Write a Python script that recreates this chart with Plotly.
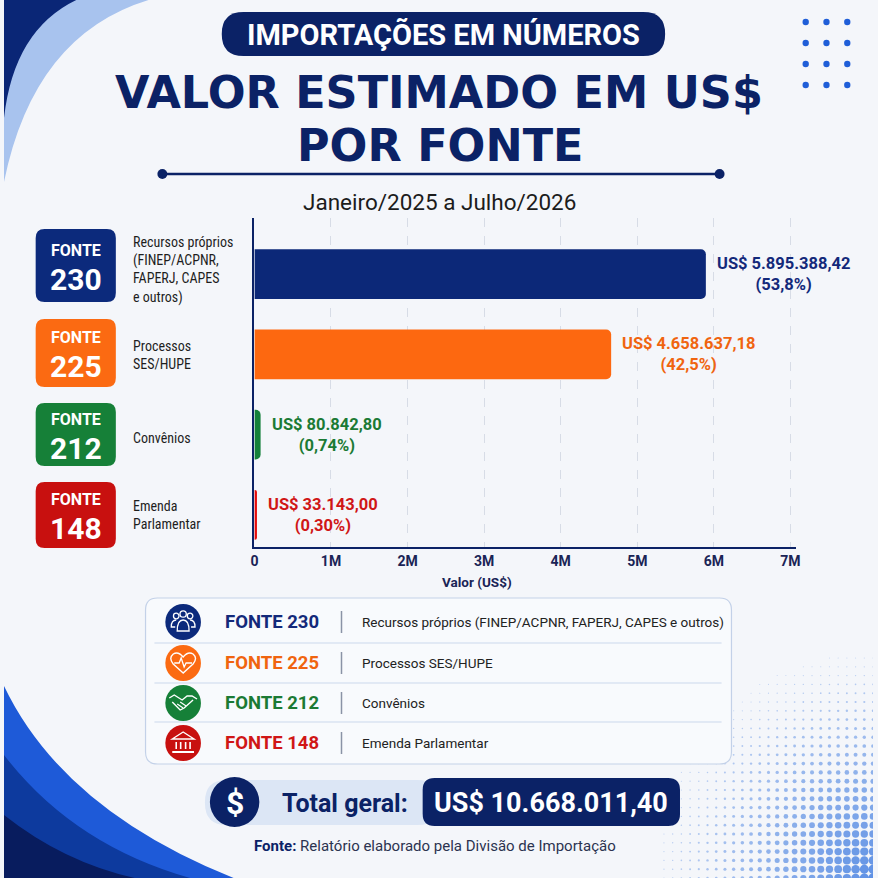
import plotly.graph_objects as go
import numpy as np

# ---------------- data ----------------
fontes = ["230", "225", "212", "148"]
categorias = ["FONTE 230", "FONTE 225", "FONTE 212", "FONTE 148"]
descricoes_curta = ["Recursos próprios<br>(FINEP/ACPNR,<br>FAPERJ, CAPES<br>e outros)",
                    "Processos<br>SES/HUPE", "Convênios", "Emenda<br>Parlamentar"]
descricoes_longa = ["Recursos próprios (FINEP/ACPNR, FAPERJ, CAPES e outros)",
                    "Processos SES/HUPE", "Convênios", "Emenda Parlamentar"]
valores = [5895388.42, 4658637.18, 80842.80, 33143.00]
percentuais = ["53,8%", "42,5%", "0,74%", "0,30%"]
tick_vals = [0, 1e6, 2e6, 3e6, 4e6, 5e6, 6e6, 7e6]
tick_text = ["0", "1M", "2M", "3M", "4M", "5M", "6M", "7M"]

cores_barra = ["#0c2878", "#fd6810", "#13803a", "#e50b0b"]
cores_box = ["#0c2a7c", "#fb6a12", "#168038", "#c8100f"]
cores_label = ["#13297a", "#f0640f", "#1b7a34", "#d01616"]

NAVY = "#0b2266"
W = H = 878


def brl(v):
    s = f"{v:,.2f}"
    return s.replace(",", "#").replace(".", ",").replace("#", ".")


def X(px):
    return px / W


def Y(py):
    return 1 - py / H


def pt(x, y):
    return f"{X(x):.5f},{Y(y):.5f}"


def rrect(x0, y0, x1, y1, r):
    return (f"M {pt(x0+r, y0)} L {pt(x1-r, y0)} Q {pt(x1, y0)} {pt(x1, y0+r)} "
            f"L {pt(x1, y1-r)} Q {pt(x1, y1)} {pt(x1-r, y1)} L {pt(x0+r, y1)} "
            f"Q {pt(x0, y1)} {pt(x0, y1-r)} L {pt(x0, y0+r)} Q {pt(x0, y0)} {pt(x0+r, y0)} Z")


shapes = []
ann = []


def add_path(path, fill=None, line=None, lw=0, layer="above"):
    shapes.append(dict(type="path", path=path, xref="paper", yref="paper",
                       fillcolor=fill if fill else "rgba(0,0,0,0)",
                       line=dict(color=line if line else "rgba(0,0,0,0)", width=lw),
                       layer=layer))


def add_circle(cx, cy, r, fill=None, line=None, lw=0, layer="above"):
    shapes.append(dict(type="circle", xref="paper", yref="paper",
                       x0=X(cx - r), x1=X(cx + r), y0=Y(cy + r), y1=Y(cy - r),
                       fillcolor=fill if fill else "rgba(0,0,0,0)",
                       line=dict(color=line if line else "rgba(0,0,0,0)", width=lw),
                       layer=layer))


def add_line(x0, y0, x1, y1, color, w):
    shapes.append(dict(type="line", xref="paper", yref="paper",
                       x0=X(x0), x1=X(x1), y0=Y(y0), y1=Y(y1),
                       line=dict(color=color, width=w)))


def text(x, y, t, size, color, family="Roboto", weight=None, xanchor="center",
         align="center", yanchor="middle"):
    f = dict(size=size, color=color, family=family)
    if weight:
        f["weight"] = weight
    ann.append(dict(x=X(x), y=Y(y), xref="paper", yref="paper", text=t, showarrow=False,
                    xanchor=xanchor, yanchor=yanchor, align=align, font=f, borderpad=0))


# ---------------- decorations ----------------
# top-left corner
add_path(f"M {pt(0,0)} L {pt(146,0)} Q {pt(30,35)} {pt(0,182)} Z", fill="#a8c3ee", layer="below")
add_path(f"M {pt(0,0)} L {pt(73,0)} Q {pt(10,30)} {pt(0,118)} Z", fill="#0a2676", layer="below")
# bottom-left waves
add_path(f"M {pt(0,686)} Q {pt(60,810)} {pt(232,878)} L {pt(0,878)} Z", fill="#1e5ad8", layer="below")
add_path(f"M {pt(0,755)} Q {pt(70,845)} {pt(188,878)} L {pt(0,878)} Z", fill="#0d3a9e", layer="below")
add_path(f"M {pt(0,815)} Q {pt(60,862)} {pt(132,878)} L {pt(0,878)} Z", fill="#081c5e", layer="below")
# top-right dots
for cx in [810, 831, 852]:
    for cy in [22, 43, 64, 85]:
        add_circle(cx, cy, 3.2, fill="#1f5ed8")

# header pill + title
add_path(rrect(220, 12, 668, 56, 22), fill=NAVY)
text(444, 35, "IMPORTAÇÕES EM NÚMEROS", 29, "white", weight=700)
text(440, 92, "VALOR ESTIMADO EM US$", 44.5, NAVY, family="DejaVu Sans", weight=700)
text(441, 145, "POR FONTE", 44.5, NAVY, family="DejaVu Sans", weight=700)
add_line(160, 174, 723, 174, NAVY, 2.5)
add_circle(160, 174, 5, fill=NAVY)
add_circle(723, 174, 5, fill=NAVY)
text(440, 202, "Janeiro/2025 a Julho/2026", 22.5, "#1c1c1c")

# left boxes
boxes = [(229, 302), (319, 387), (403, 466), (482, 548)]
desc_y = [270, 355, 438, 515]
for i, (y0, y1) in enumerate(boxes):
    add_path(rrect(32, y0, 113, y1, 9), fill=cores_box[i])
    cy = (y0 + y1) / 2
    text(72.5, cy - 5, "FONTE", 16, "white", weight=700, yanchor="bottom")
    text(72.5, cy - 5, fontes[i], 30, "white", weight=700, yanchor="top")
    text(129, desc_y[i], descricoes_curta[i], 14, "#1e1e1e",
         family="Liberation Sans Narrow, Roboto Condensed, Roboto",
         xanchor="left", align="left")

# axis title
text(478, 582, "Valor (US$)", 13.5, "#1a2456", weight=700)

# legend box
add_path(rrect(143, 598, 735, 764, 12), fill="#f8fafd", line="#c3d1e8", lw=1.2)
for ly in [643, 683, 722]:
    add_line(152, ly, 725, ly, "#cbd8ec", 1)
row_y = [622, 663, 703, 743]
for i, cy in enumerate(row_y):
    add_circle(181, cy, 18, fill=cores_box[i])
    text(222, cy, f"FONTE {fontes[i]}", 18.5, cores_label[i], weight=700, xanchor="left")
    add_line(341, cy - 11, 341, cy + 11, "#8a93a6", 1.5)
    text(361, cy, descricoes_longa[i], 13.5, "#222222", xanchor="left")

# icons (white outline)
cx, cy = 181, row_y[0]
for hx, hy, hr in [(cx - 7, cy - 6, 2.8), (cx, cy - 8, 3.2), (cx + 7, cy - 6, 2.8)]:
    add_circle(hx, hy, hr, line="white", lw=1.3)
add_path(f"M {pt(cx-6,cy+9)} Q {pt(cx-6,cy-2)} {pt(cx,cy-2)} Q {pt(cx+6,cy-2)} {pt(cx+6,cy+9)} Z", line="white", lw=1.3)
add_path(f"M {pt(cx-8,cy+5)} L {pt(cx-12,cy+5)} Q {pt(cx-12,cy-2)} {pt(cx-7,cy-2)}", line="white", lw=1.3)
add_path(f"M {pt(cx+8,cy+5)} L {pt(cx+12,cy+5)} Q {pt(cx+12,cy-2)} {pt(cx+7,cy-2)}", line="white", lw=1.3)
cx, cy = 181, row_y[1]
add_path(f"M {pt(cx,cy+10)} L {pt(cx-10,cy+1)} Q {pt(cx-15,cy-5)} {pt(cx-10,cy-9)} "
         f"Q {pt(cx-5,cy-12)} {pt(cx,cy-6)} Q {pt(cx+5,cy-12)} {pt(cx+10,cy-9)} "
         f"Q {pt(cx+15,cy-5)} {pt(cx+10,cy+1)} Z", line="white", lw=1.4)
add_path(f"M {pt(cx-9,cy)} L {pt(cx-4,cy)} L {pt(cx-2,cy-5)} L {pt(cx+1,cy+4)} L {pt(cx+3,cy)} L {pt(cx+9,cy)}",
         line="white", lw=1.3)
cx, cy = 181, row_y[2]
add_path(f"M {pt(cx-14,cy-5)} L {pt(cx-9,cy-8)} L {pt(cx-1,cy-3)} L {pt(cx+4,cy-7)} L {pt(cx+9,cy-7)} L {pt(cx+14,cy-4)}",
         line="white", lw=1.4)
add_path(f"M {pt(cx-11,cy-1)} L {pt(cx-3,cy+7)} L {pt(cx+1,cy+5)} L {pt(cx+10,cy-3)}", line="white", lw=1.4)
add_path(f"M {pt(cx-6,cy+1)} L {pt(cx,cy+5)} M {pt(cx-3,cy-1)} L {pt(cx+3,cy+3)}", line="white", lw=1.2)
cx, cy = 181, row_y[3]
add_path(f"M {pt(cx-11,cy-4)} L {pt(cx,cy-11)} L {pt(cx+11,cy-4)} Z", line="white", lw=1.4)
for dx in [-7, -2.5, 2.5, 7]:
    add_line(cx + dx, cy - 1, cx + dx, cy + 6, "white", 1.6)
add_line(cx - 11, cy + 9, cx + 11, cy + 9, "white", 2)

# total
add_path(rrect(203, 780, 440, 825, 22), fill="#dce6f5")
add_path(rrect(423, 778, 683, 826, 12), fill=NAVY)
add_circle(233, 802, 25, fill=NAVY)
text(233, 803, "$", 32, "white", weight=700)
text(280, 803, "Total geral:", 25, NAVY, weight=700, xanchor="left")
text(553, 803, "US$ " + brl(sum(valores)), 27, "white", weight=700)

# footer
text(435, 846, f"<b><span style='color:{NAVY}'>Fonte:</span></b> Relatório elaborado pela Divisão de Importação",
     15, "#2b3350")

# ---------------- figure ----------------
fig = go.Figure()

# halftone background decoration (bottom-right)
gx, gy = np.meshgrid(np.arange(878, 660, -8.8), np.arange(878, 640, -8.8))
gx, gy = gx.ravel(), gy.ravel()
dist = np.hypot(878 - gx, 878 - gy)
keep = dist < 225
gx, gy, dist = gx[keep], gy[keep], dist[keep]
sizes = 1 + 8.5 * (1 - dist / 225) ** 1.3
opac = 0.3 + 0.6 * (1 - dist / 225)
fig.add_trace(go.Scatter(x=gx, y=gy, mode="markers", xaxis="x2", yaxis="y2",
                         marker=dict(size=sizes, color="#4f86e2",
                                     opacity=opac, line=dict(width=0)),
                         hoverinfo="skip", showlegend=False))

fig.add_trace(go.Bar(
    y=categorias, x=valores, orientation="h",
    marker=dict(color=cores_barra, line=dict(width=0)),
    width=0.62, hoverinfo="skip", showlegend=False,
))

for i in range(len(valores)):
    ann.append(dict(x=valores[i], y=categorias[i], xref="x", yref="y",
                    text=f"US$ {brl(valores[i])}<br>({percentuais[i]})",
                    showarrow=False, xanchor="left", yanchor="middle", xshift=9, align="center",
                    font=dict(size=16.5, color=cores_label[i], family="Roboto", weight=700)))

fig.update_layout(
    width=W, height=H, margin=dict(l=0, r=0, t=0, b=0),
    paper_bgcolor="#f4f6fa", plot_bgcolor="rgba(0,0,0,0)",
    barcornerradius=5,
    xaxis=dict(domain=[X(253), X(800)], range=[0, 7.07e6], tickvals=tick_vals, ticktext=tick_text,
               tickfont=dict(size=14, color="#1a2456", family="Roboto", weight=700),
               showgrid=True, gridcolor="#d7dce6", griddash="dash", gridwidth=1,
               showline=True, linecolor=NAVY, linewidth=2, zeroline=False, ticks="",
               anchor="y", fixedrange=True),
    yaxis=dict(domain=[Y(547), Y(218)], range=[3.4, -0.7], type="category",
               categoryorder="array", categoryarray=categorias,
               showticklabels=False, showgrid=False, showline=True, linecolor=NAVY,
               linewidth=2, zeroline=False, ticks="", anchor="x"),
    xaxis2=dict(domain=[0, 1], range=[0, W], visible=False, anchor="y2"),
    yaxis2=dict(domain=[0, 1], range=[H, 0], visible=False, anchor="x2"),
    shapes=shapes, annotations=ann,
    font=dict(family="Roboto"),
)

fig.write_html("out.html", config={"displayModeBar": False},
               post_script="document.body.style.margin='0px';document.documentElement.style.overflow='hidden';")
